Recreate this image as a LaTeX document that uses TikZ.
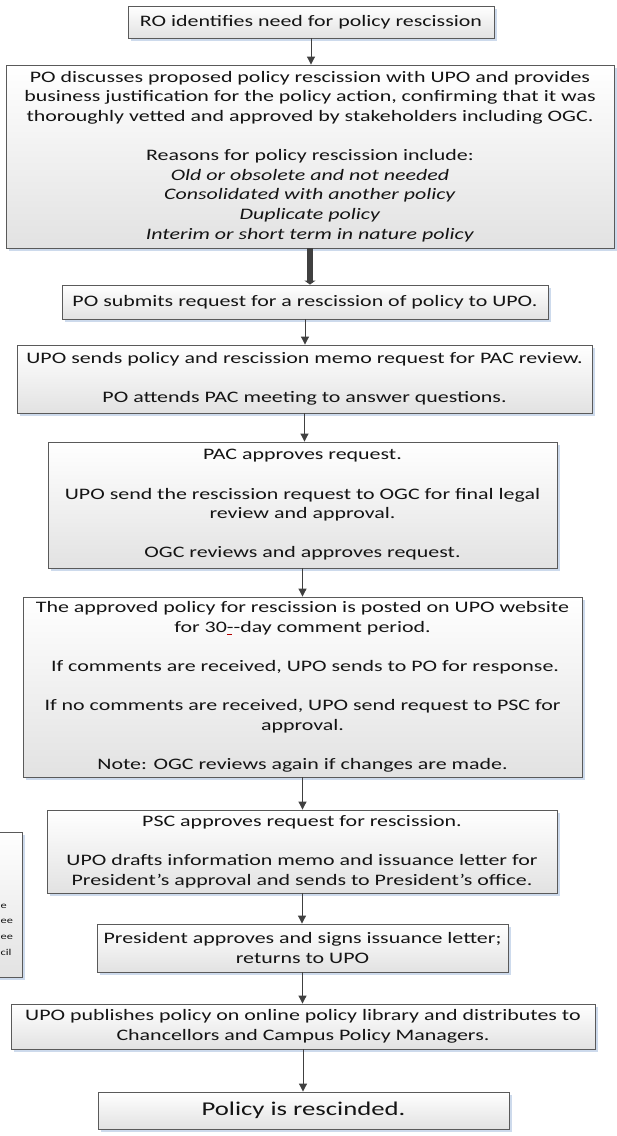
\documentclass[tikz,border=0pt]{standalone}
\usepackage{fontspec}
\setmainfont[FakeStretch=1.37]{Carlito}
\usetikzlibrary{arrows.meta,shadows}
\definecolor{edge}{RGB}{90,90,90}
\definecolor{arrowc}{RGB}{64,64,64}
\definecolor{shad}{RGB}{205,218,236}
\definecolor{fillbot}{RGB}{226,226,226}
\definecolor{txt}{RGB}{20,20,20}
\tikzset{
 box/.style={draw=edge, line width=0.9pt, top color=white, bottom color=fillbot, align=center, inner sep=0pt, text=txt,
   font=\fontsize{16}{19.6}\selectfont,
   drop shadow={fill=shad, shadow xshift=2.5pt, shadow yshift=-2.5pt, opacity=1}},
 arr/.style={draw=arrowc, line width=1pt, -{Triangle[length=8pt,width=8pt]}},
 thickarr/.style={draw=arrowc, line width=6pt, -{Triangle[length=4pt,width=11pt]}},
 frag/.style={anchor=west, inner sep=0pt, text=txt, font=\fontsize{9}{11}\selectfont},
}
\begin{document}
\begin{tikzpicture}[x=1pt,y=-1pt]
\useasboundingbox (0,0) rectangle (617,1136);
\fill[white] (0,0) rectangle (617,1136);

\node[box, minimum width=366, minimum height=32] (ro) at (311,22) {RO identifies need for policy rescission};

\node[box, minimum width=608, minimum height=183] (po) at (310,156.5) {PO discusses proposed policy rescission with UPO and provides\\
business justification for the policy action, confirming that it was\\
thoroughly vetted and approved by stakeholders including OGC.\\[19.6pt]
Reasons for policy rescission include:\\
\textit{Old or obsolete and not needed}\\
\textit{Consolidated with another policy}\\
\textit{Duplicate policy}\\
\textit{Interim or short term in nature policy}};

\node[box, minimum width=486, minimum height=34] (sub) at (305,302) {PO submits request for a rescission of policy to UPO.};

\node[box, minimum width=575, minimum height=68] (upo) at (304.5,379) {UPO sends policy and rescission memo request for PAC review.\\[19.6pt]
PO attends PAC meeting to answer questions.};

\node[box, minimum width=509, minimum height=126] (pac) at (302.5,505) {PAC approves request.\\[19.6pt]
UPO send the rescission request to OGC for final legal\\
review and approval.\\[19.6pt]
OGC reviews and approves request.};

\node[box, minimum width=559, minimum height=180] (post) at (302.5,687) {The approved policy for rescission is posted on UPO website\\
for 30{\color{red!70!black}\rlap{\rule[-2.5pt]{5pt}{1pt}}}-{}-day comment period.\\[19.6pt]
\ If comments are received, UPO sends to PO for response.\\[19.6pt]
If no comments are received, UPO send request to PSC for\\
approval.\\[19.6pt]
Note: OGC reviews again if changes are made.};

\node[box, minimum width=510, minimum height=83] (psc) at (302,851.5) {PSC approves request for rescission.\\[19.6pt]
UPO drafts information memo and issuance letter for\\
President’s approval and sends to President’s office.};

\node[box, minimum width=411, minimum height=48] (pres) at (302.5,948) {President approves and signs issuance letter;\\
returns to UPO};

\node[box, minimum width=584, minimum height=45] (pub) at (303,1026.5) {UPO publishes policy on online policy library and distributes to\\
Chancellors and Campus Policy Managers.};

\node[box, minimum width=411, minimum height=37, font=\fontsize{19.5}{23}\selectfont] (done) at (303.5,1110.5) {Policy is rescinded.};

\node[box, minimum width=90, minimum height=145] (side) at (-23,904.5) {};
\node[frag] (f1) at (0.5,906) {e};
\node[frag] (f2) at (0.5,921) {ee};
\node[frag] (f3) at (0.5,937) {ee};
\node[frag] (f4) at (0.5,952) {cil};

\draw[arr] (ro.south) -- (ro.south |- po.north);
\draw[thickarr] (po.south) -- (po.south |- sub.north);
\draw[arr] (sub.south) -- (sub.south |- upo.north);
\draw[arr] (upo.south) -- (upo.south |- pac.north);
\draw[arr] (pac.south) -- (pac.south |- post.north);
\draw[arr] (post.south) -- (post.south |- psc.north);
\draw[arr] (psc.south) -- (psc.south |- pres.north);
\draw[arr] (pres.south) -- (pres.south |- pub.north);
\draw[arr] (pub.south) -- (pub.south |- done.north);
\end{tikzpicture}
\end{document}
